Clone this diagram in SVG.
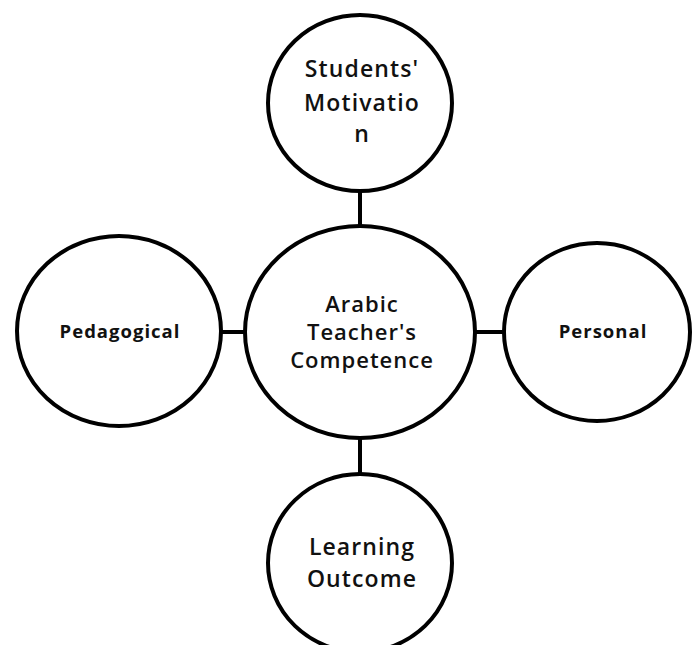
<svg xmlns="http://www.w3.org/2000/svg" width="693" height="645" viewBox="0 0 693 645">
<style>
.n{fill:#fff;stroke:#000;stroke-width:4}
.c{stroke:#000;stroke-width:4;fill:none}
text{font-family:"Open Sans","DejaVu Sans",sans-serif;fill:#111;text-anchor:middle}
.t1{font-size:23px;font-weight:600;letter-spacing:1.1px}
.t2{font-size:22px;font-weight:600;letter-spacing:1px}
.t3{font-size:18.5px;font-weight:700;letter-spacing:1px}
</style>
<rect width="693" height="645" fill="#fff"/>
<g id="connectors">
<line class="c" x1="360" y1="190" x2="360" y2="226"/>
<line class="c" x1="360" y1="438" x2="360" y2="474"/>
<line class="c" x1="221" y1="332" x2="245" y2="332"/>
<line class="c" x1="475" y1="332" x2="504" y2="332"/>
</g>
<g id="students-motivation">
<ellipse class="n" cx="360" cy="103" rx="92" ry="88"/>
<text class="t1" x="362" y="77">Students'</text>
<text class="t1" x="362" y="111">Motivatio</text>
<text class="t1" x="362" y="142">n</text>
</g>
<g id="arabic-teachers-competence">
<ellipse class="n" cx="360" cy="332" rx="115" ry="106"/>
<text class="t2" x="362" y="312">Arabic</text>
<text class="t2" x="362" y="340">Teacher's</text>
<text class="t2" x="362" y="368">Competence</text>
</g>
<g id="pedagogical">
<ellipse class="n" cx="119" cy="331" rx="102" ry="95"/>
<text class="t3" x="120" y="338">Pedagogical</text>
</g>
<g id="personal">
<ellipse class="n" cx="597" cy="332" rx="93" ry="89"/>
<text class="t3" x="603" y="338">Personal</text>
</g>
<g id="learning-outcome">
<ellipse class="n" cx="360" cy="563" rx="92" ry="89"/>
<text class="t1" x="362" y="555">Learning</text>
<text class="t1" x="362" y="587">Outcome</text>
</g>
</svg>
